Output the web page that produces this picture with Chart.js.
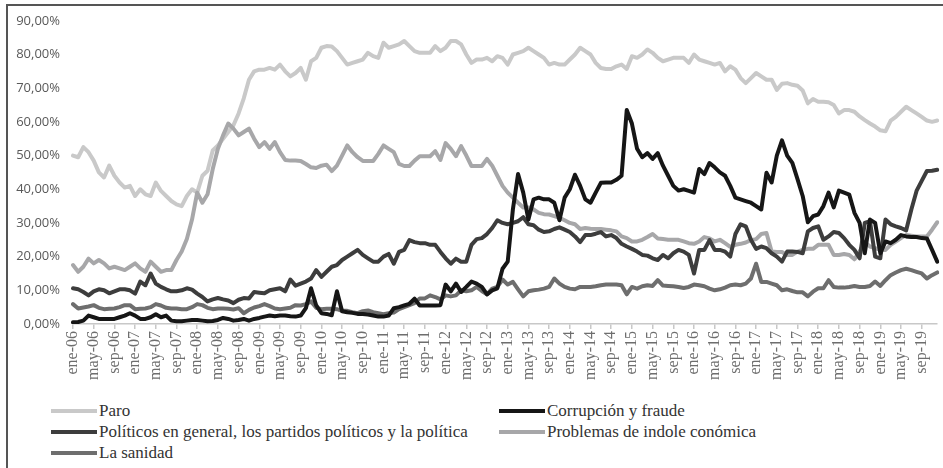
<!DOCTYPE html>
<html>
<head>
<meta charset="utf-8">
<script src="https://cdn.jsdelivr.net/npm/chart.js@4.4.1/dist/chart.umd.min.js"></script>
<style>
  html, body { margin: 0; padding: 0; background: #fff; width: 943px; height: 468px; overflow: hidden; }
  #frame { position: absolute; left: 6px; top: 4px; width: 1000px; height: 1000px;
           border-left: 2px solid #555; border-top: 2px solid #555; }
  #wrap { position: absolute; left: 0; top: 0; width: 943px; height: 400px; }
  #legend { position: absolute; left: 51px; top: 400px; display: grid;
            grid-template-columns: 448px auto; font-family: "Liberation Serif", serif;
            font-size: 17px; color: #333; line-height: 21px; }
  #legend div { white-space: nowrap; display: flex; align-items: center; }
  #legend span.sw { display: inline-block; width: 46px; height: 4px; margin-right: 2px; }
</style>
</head>
<body>
<div id="frame"></div>
<div id="wrap"><canvas id="myChart" width="943" height="400"></canvas></div>
<div id="legend"></div>
<script>
// categorías: meses ene-06 ... dic-19
var months = ['ene', 'feb', 'mar', 'abr', 'may', 'jun', 'jul', 'ago', 'sep', 'oct', 'nov', 'dic'];
var years = ['06', '07', '08', '09', '10', '11', '12', '13', '14', '15', '16', '17', '18', '19'];
var labels = [];
years.forEach(function (y) {
    months.forEach(function (m) { labels.push(m + '-' + y); });
});

var yTicks = [0, 10, 20, 30, 40, 50, 60, 70, 80, 90];

// Paro
var paro = [
    50, 49.5, 52.5, 51, 48.5, 45, 43.5, 47, 44, 42, 40.5, 41,
    38, 40, 38.5, 38, 42, 39.5, 38, 36.5, 35.5, 35, 38, 40,
    39, 44, 45.5, 51.5, 53, 55, 57, 59, 62.5, 67, 72.5, 75,
    75.5, 75.5, 76, 75.5, 77, 75, 73.5, 74.5, 76, 72.5, 78, 79,
    82, 82.5, 82.4, 81, 79, 77, 77.5, 78, 78.5, 80.5, 79.5, 79,
    83.5, 82, 82.5, 83, 84, 82.5, 81, 80.5, 80.5, 80.5, 82.5, 81,
    82, 84, 84, 83, 80, 77.5, 78.5, 78.5, 79, 78, 79.5, 79,
    77, 80, 80.5, 81, 82, 81, 80, 79, 77, 77.5, 77, 77,
    78.5, 80, 82, 81, 80, 77.5, 76, 75.7, 75.7, 76.5, 77, 75.7,
    79.5, 79, 80, 81.5, 80.5, 79, 78, 78.5, 79, 79, 79, 77.5,
    80, 78.5, 78, 77.5, 77, 77.5, 75, 76.5, 75.5, 73, 71.5, 73,
    74.5, 73.5, 72.5, 72.5, 69.5, 71.3, 71.5, 71, 70.7, 69.3, 65.5, 66.8,
    66, 66, 65.8, 65, 62.5, 63.5, 63.5, 63, 61.6, 60.5, 59.5, 58.6,
    57.5, 57.2, 60.4, 61.5, 63, 64.5, 63.5, 62.5, 61.5, 60.4, 60, 60.4
];

// Corrupción y fraude
var corrupcion = [
    0.5, 0.6, 1, 2.5, 2, 1.5, 1.5, 1.5, 1.5, 2, 2.5, 3.2,
    2.5, 1.5, 1.5, 2, 2.9, 2, 2.5, 1, 0.8, 0.8, 1, 1.2,
    1.2, 1, 0.8, 0.9, 1.2, 1.8, 1.5, 1, 1.2, 1.5, 1, 1.5,
    1.8, 2.2, 2.5, 2.3, 2.5, 2.5, 2.3, 2.2, 2.5, 4.7, 10.6, 5.5,
    3.2, 3, 2.6, 9.7, 3.8, 3.5, 3.3, 3, 3, 2.8, 2.5, 2.2,
    2.2, 2.5, 4.7, 5, 5.5, 6, 7.5, 5.5, 5.5, 5.5, 5.5, 5.6,
    11.7, 9.7, 12, 9.5, 11, 12.6, 12, 11, 8.8, 10, 10.6, 16.4,
    18.5, 34, 44.5, 39, 31, 37, 37.5, 37, 37, 36, 30.8, 37.5,
    40, 44.3, 41, 37, 36, 39, 41.9, 42, 42, 42.8, 44, 63.5,
    59.5, 52, 49.5, 50.7, 49, 50.7, 47, 44, 41, 39.6, 40, 39.5,
    39, 46, 44.5, 47.8, 46.5, 45, 44, 41, 37.5, 37, 36.5, 36,
    35, 34, 44.9, 42, 50, 54.5, 50, 47.8, 43, 38, 30.2, 32,
    32.5, 35, 39, 34.6, 39.6, 39, 38.4, 33, 30, 21, 31, 30,
    21, 24.5, 24, 25, 26.4, 26, 25.8, 25.8, 25.5, 25.4, 22, 18.5
];

// Políticos en general, los partidos políticos y la política
var politicos = [
    10.6, 10.3, 9.5, 8.5, 9.7, 10.3, 10, 9.1, 9.7, 10.3, 10.3, 10,
    9, 12.6, 11.5, 15, 12, 11, 10.3, 9.7, 9.7, 10, 10.6, 10.2,
    9, 8, 6.7, 7.3, 7.7, 7.3, 7, 6.2, 7.2, 7.7, 7.6, 9.5,
    9.3, 9.1, 10, 10.3, 10.6, 9.7, 13.2, 11.4, 12, 12.6, 13.5, 16,
    14, 15.5, 17, 17.5, 19, 20, 21, 22, 20.5, 19.5, 18.5, 18.5,
    20, 20.8, 17.9, 21.4, 22, 24.9, 24.3, 24, 24, 23.5, 23.5, 21.4,
    19.5, 17.9, 19.4, 18.5, 18.5, 23.5, 25.2, 25.5, 26.7, 28.5, 30.8, 30,
    29.6, 30, 30.5, 31.7, 29.6, 29.3, 28, 27.3, 27.5, 28.2, 28.7, 28,
    27.3, 26, 24.3, 26.4, 26.4, 26.8, 27.3, 26, 26.4, 25.5, 23.8, 23,
    22.3, 21.5, 20.5, 20.3, 19.5, 19, 20.5, 19.5, 21, 22, 21.5, 20.5,
    15, 22, 22, 24.9, 22, 22, 21.5, 20, 26.7, 29.6, 29, 25,
    22.3, 23, 22.5, 21, 20, 18.5, 21.5, 21.5, 21.4, 21, 27.5, 28.5,
    29, 25, 26, 27.3, 27, 25.5, 23.5, 22, 19.5, 30, 30.5, 20,
    19.5, 31, 29.6, 29, 28.5, 27.8, 34, 39.5, 42.5, 45.4, 45.5, 45.8
];

// Problemas de índole económica
var economia = [
    17.5, 15.5, 17, 19.4, 18, 19, 18, 16.5, 17, 16.5, 16, 17,
    18, 16.5, 15.5, 18.5, 17, 15.5, 16, 16, 19, 21.5, 25.2, 31,
    39, 36, 38.5, 46, 52, 56, 59.5, 58, 56, 57, 58, 55,
    52.5, 54, 52, 54, 51, 48.7, 48.5, 48.5, 48.4, 47.5, 46.5, 46.3,
    47, 47.3, 45.4, 47, 50, 53, 51, 49.5, 48.4, 48.4, 48.4, 50.5,
    53, 52, 51, 47.5, 46.9, 46.9, 48.5, 49.8, 49.8, 49.8, 51.3, 48.7,
    53.7, 52, 49.8, 52.8, 50, 46.9, 46.9, 46.9, 49, 47, 44, 41,
    39, 37.5, 36, 34.6, 34.6, 34, 33, 32.6, 32.5, 32, 31.5, 30.8,
    30, 29.6, 28.2, 28.5, 28.3, 28.2, 28.2, 28, 27.8, 27.5, 26, 25.5,
    24.5, 24.5, 25, 25.8, 26.7, 25.4, 25.2, 25, 25, 25, 24.5, 24,
    23.8, 24.5, 25.8, 25.4, 24.5, 25, 24, 22.9, 23.5, 23.8, 24.2, 24.9,
    25.2, 26.7, 27, 21.5, 21.4, 21.4, 20.5, 20.5, 21.5, 22, 22.3, 22.3,
    23.5, 23.5, 23.5, 20.5, 20.5, 20.8, 20.5, 19.2, 21.5, 24.3, 23, 22.5,
    22, 22, 23.5, 24.5, 25.5, 26.4, 26.2, 26, 26, 26, 28, 30.2
];

// La sanidad
var sanidad = [
    5.9, 4.6, 4.9, 5.2, 5.6, 4.8, 4.4, 4.5, 4.6, 5, 5.6, 5.6,
    4.4, 4.5, 4.6, 5, 5.9, 5.5, 4.8, 4.6, 4.6, 4.4, 4.4, 5,
    5.9, 5.6, 4.8, 4.4, 4.6, 4.6, 4.5, 4.3, 4.7, 3.2, 4.2, 4.9,
    5.3, 5.9, 5.3, 4.6, 4.4, 4.6, 4.8, 5.6, 5.5, 5.9, 6.7, 4.8,
    4.4, 4.5, 4.5, 4.4, 3.9, 3.9, 3.5, 3.2, 3.8, 4, 3.5, 3.2,
    2.9, 3.2, 3.4, 4.4, 5, 5.6, 6.2, 7.6, 7.6, 8.5, 8, 7.3,
    8.5, 8.2, 8.5, 10, 9.7, 10, 11, 9.8, 8.8, 10.5, 11, 13.2,
    11.7, 12.5, 10.3, 8.2, 9.7, 10, 10.2, 10.5, 11, 13.5, 12, 11,
    10.5, 10.3, 11, 11, 11, 11.2, 11.5, 11.7, 11.7, 11.7, 11.5, 8.8,
    11, 10.5, 11.2, 11.5, 11.3, 13, 11.4, 11.3, 11.2, 11, 10.7, 11,
    11.7, 11.5, 11.2, 10.5, 10, 10.3, 10.8, 11.5, 11.7, 11.5, 12, 13.5,
    17.9, 12.5, 12.5, 12, 11.5, 10, 10.3, 9.8, 9.4, 9.4, 8.2, 9.6,
    10.6, 10.6, 13, 11, 10.8, 10.8, 11, 11.3, 11, 11, 11.3, 12.6,
    11.3, 13, 14.5, 15.3, 16, 16.4, 16, 15.5, 15, 13.5, 14.5, 15.3
];

var series = [
    { label: 'Paro', data: paro, color: '#c9c9c9', order: 5 },
    { label: 'Corrupción y fraude', data: corrupcion, color: '#161616', order: 1 },
    { label: 'Políticos en general, los partidos políticos y la política', data: politicos, color: '#3d3d3d', order: 2 },
    { label: 'Problemas de indole conómica', data: economia, color: '#a7a7a9', order: 4 },
    { label: 'La sanidad', data: sanidad, color: '#6e6e6e', order: 3 }
];

var ctx = document.getElementById('myChart');
var myChart = new Chart(ctx, {
    type: 'line',
    data: {
        labels: labels,
        datasets: series.map(function (s) {
            return {
                label: s.label,
                data: s.data,
                borderColor: s.color,
                backgroundColor: s.color,
                order: s.order
            };
        })
    },
    options: {
        responsive: false,
        animation: false,
        layout: { padding: { top: 17, right: 5, left: 0, bottom: 0 } },
        plugins: { legend: { display: false }, tooltip: { enabled: false } },
        elements: {
            point: { radius: 0 },
            line: { tension: 0, borderWidth: 4, borderJoinStyle: 'round', borderCapStyle: 'round' }
        },
        scales: {
            x: {
                ticks: {
                    autoSkip: false, minRotation: 90, maxRotation: 90, padding: 2,
                    color: '#6e6e6e',
                    font: { family: 'Liberation Serif', size: 16 },
                    callback: function (v, i) { return i % 4 === 0 ? labels[i] : null; } // sólo cada 4 meses
                },
                grid: { drawOnChartArea: false, drawTicks: true, tickLength: 5, color: '#c8c8c8', lineWidth: 1.5 },
                border: { color: '#c8c8c8', width: 1.5 },
                afterFit: function (s) { s.height = 76; }
            },
            y: {
                min: yTicks[0], max: yTicks[yTicks.length - 1],
                afterBuildTicks: function (s) { s.ticks = yTicks.map(function (v) { return { value: v }; }); },
                ticks: {
                    padding: 13, color: '#595959',
                    font: { family: 'Open Sans', size: 13 },
                    callback: function (v) { return v.toFixed(2).replace('.', ',') + '%'; }
                },
                grid: { display: false, drawTicks: false },
                border: { display: false },
                afterFit: function (s) { s.width = 73; }
            }
        }
    }
});

// leyenda en dos columnas
var legend = document.getElementById('legend');
series.forEach(function (s) {
    var item = document.createElement('div');
    var sw = document.createElement('span');
    sw.className = 'sw';
    sw.style.background = s.color;
    item.appendChild(sw);
    item.appendChild(document.createTextNode(s.label));
    legend.appendChild(item);
});
</script>
</body>
</html>
